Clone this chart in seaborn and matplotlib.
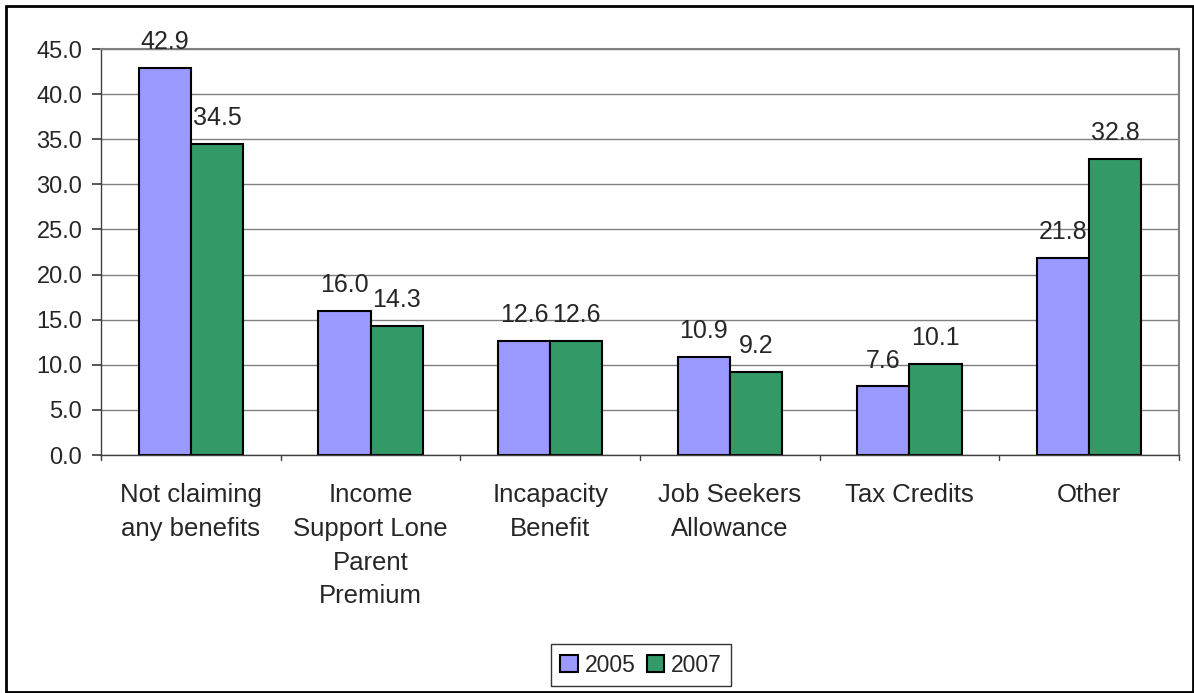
import matplotlib
matplotlib.use("Agg")
import matplotlib.pyplot as plt
import seaborn as sns
import pandas as pd
from matplotlib.patches import Rectangle

categories = ["Not claiming\nany benefits", "Income\nSupport Lone\nParent\nPremium",
              "Incapacity\nBenefit", "Job Seekers\nAllowance", "Tax Credits", "Other"]
years = ["2005", "2007"]
values_2005 = [42.9, 16.0, 12.6, 10.9, 7.6, 21.8]
values_2007 = [34.5, 14.3, 12.6, 9.2, 10.1, 32.8]
colors = ["#9999FF", "#339966"]
y_ticks = [0, 5, 10, 15, 20, 25, 30, 35, 40, 45]

df = pd.DataFrame({
    "category": categories * 2,
    "year": [years[0]] * len(categories) + [years[1]] * len(categories),
    "value": values_2005 + values_2007,
})

sns.set_theme(style="white")
plt.rcParams["font.family"] = ["Liberation Sans", "DejaVu Sans"]

W, H = 1194, 693
fig = plt.figure(figsize=(W / 100, H / 100), dpi=100)
ax = fig.add_axes([101 / W, 1 - 455 / H, (1179 - 101) / W, (455 - 49) / H])

sns.barplot(data=df, x="category", y="value", hue="year", palette=colors,
            saturation=1, width=0.58, edgecolor="black", linewidth=1.5,
            ax=ax, legend=True)

ax.set_ylim(0, 45)
ax.set_yticks(y_ticks)
ax.set_yticklabels([f"{t:.1f}" for t in y_ticks], fontsize=17)
ax.set_xlim(-0.5, len(categories) - 0.5)
ax.set_xticks(range(len(categories)))
ax.set_xticklabels(categories, fontsize=18.5, linespacing=1.52)
ax.tick_params(axis="x", length=0, pad=20)
ax.tick_params(axis="y", length=6.5, direction="out", color="#404040", left=True, pad=7)
ax.set_xlabel("")
ax.set_ylabel("")

# separators between category groups on the x axis
for b in range(len(categories) + 1):
    ax.plot([b - 0.5, b - 0.5], [0, -0.55], color="#404040", lw=1.0, clip_on=False)

ax.yaxis.grid(True, color="#808080", linewidth=1.0)
ax.set_axisbelow(True)
for side in ["top", "right"]:
    ax.spines[side].set_color("#808080")
    ax.spines[side].set_linewidth(1.5)
for side in ["left", "bottom"]:
    ax.spines[side].set_color("#404040")
    ax.spines[side].set_linewidth(1.0)

for container in ax.containers:
    ax.bar_label(container, fmt="%.1f", fontsize=18, padding=10)

leg = ax.legend(loc="center", bbox_to_anchor=(641 / W, 1 - 665 / H),
                bbox_transform=fig.transFigure, ncol=2, fontsize=16.5, frameon=True,
                handlelength=0.75, handleheight=0.75, handletextpad=0.3,
                columnspacing=0.5, borderpad=0.4, fancybox=False)
leg.get_frame().set_edgecolor("black")
leg.get_frame().set_linewidth(1.0)

fig.patches.append(Rectangle((6 / W, 1 / H), 1 - 7 / W, 1 - 7 / H,
                             transform=fig.transFigure, fill=False,
                             edgecolor="black", linewidth=2))

fig.savefig("out.png", dpi=100)
